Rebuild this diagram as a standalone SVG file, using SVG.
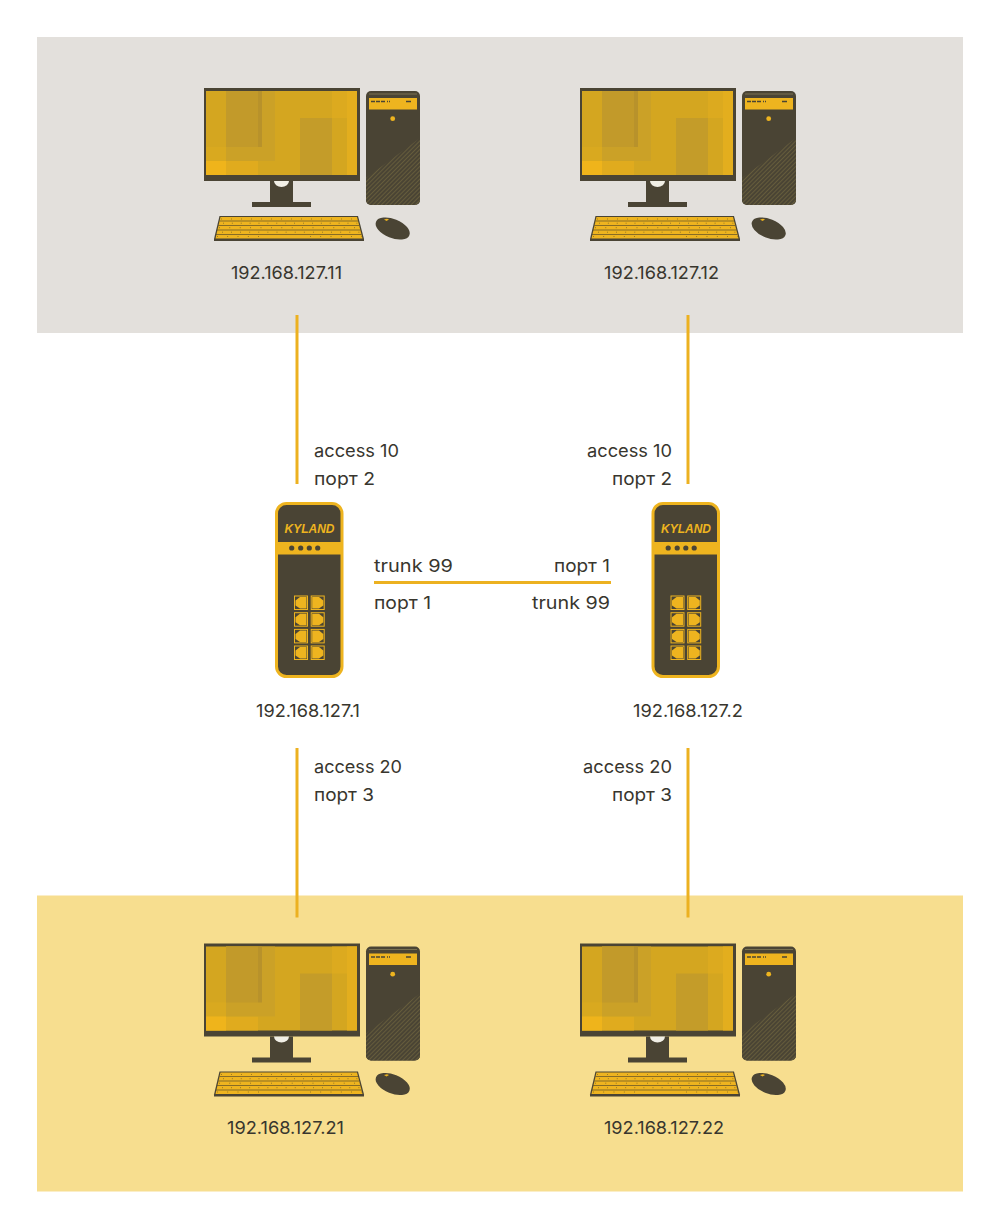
<svg xmlns="http://www.w3.org/2000/svg" width="1000" height="1229" viewBox="0 0 1000 1229">
<style>
.t{font-family:Inter,"Noto Sans","Liberation Sans",sans-serif;font-size:17.5px;fill:#38362e}
.link{stroke:#ecb120;stroke-width:3;fill:none}
.d{fill:#4a4434}
.y{fill:#eeb41f}
.key{stroke:#5a4e2a;stroke-width:.7;fill:none}
</style>
<defs>
<pattern id="hatch" width="3" height="3" patternUnits="userSpaceOnUse" patternTransform="rotate(-45)">
<rect width="3" height="3" fill="#4a4434"/><rect width="3" height="1" fill="#655c3c"/>
</pattern>
<g id="pc">
<rect class="d" x="204" y="88" width="156" height="93"/>
<rect x="206" y="91" width="151" height="84" fill="#d4a620"/>
<rect x="206" y="147" width="52" height="14" fill="#d9a91f"/>
<rect x="206" y="161" width="52" height="14" fill="#e0ab1e"/>
<rect x="206" y="161" width="20" height="14" fill="#efb41b"/>
<rect x="332" y="91" width="25" height="27" fill="#dcaa1f"/>
<rect x="347" y="91" width="10" height="84" fill="#e3ae1e"/>
<rect x="226" y="91" width="49" height="70" fill="#cba127"/>
<rect x="226" y="91" width="32" height="56" fill="#c29a2a"/>
<rect x="258" y="91" width="4" height="56" fill="#b8922b"/>
<rect x="300" y="118" width="32" height="57" fill="#c49c29"/>
<rect x="270" y="181" width="23" height="22" class="d"/>
<path d="M274 181h15a7.500 6 0 0 1-15 0z" fill="#f1efe6"/>
<rect x="252" y="202" width="59" height="5" class="d"/>
<rect x="366" y="91" width="54" height="114" rx="5" class="d"/>
<path d="M366 178L420 138V200a5 5 0 0 1-5 5H371a5 5 0 0 1-5-5z" fill="url(#hatch)"/>
<path d="M369 94h48" stroke="#7a7150" stroke-width="1" fill="none"/>
<rect x="369" y="98" width="48" height="11.500" class="y"/>
<path d="M371 101.500h4m1 0h4m1 0h4m2 0h1m1 0h1m16 0h5" stroke="#4a4434" stroke-width="1.500" fill="none"/>
<circle cx="392.700" cy="118.700" r="2.400" class="y"/>
<path d="M219.500 216H358L364 239V241H214V239z" class="d"/>
<path d="M220.500 217H357L362.500 238.500H215.500z" class="y"/>
<path class="key" d="M219.500 221H358M218.300 225.500H359M217 230H360.500M216 234.500H361.500"/>
<path class="key" d="M221 219H357" stroke-dasharray=".8 9.200"/>
<path class="key" d="M223 223.200H358" stroke-dasharray=".8 8.100"/>
<path class="key" d="M219 227.700H360" stroke-dasharray=".8 9.600"/>
<path class="key" d="M222 232.200H361" stroke-dasharray=".8 8.300"/>
<path class="key" d="M217 236.500H262M310 236.500H362" stroke-dasharray=".8 9.500"/>
<ellipse cx="392.700" cy="228.500" rx="18" ry="9.500" transform="rotate(22 392.700 228.500)" class="d"/>
<path d="M384 219.500l3-.8 2 .8-2.500 1.500z" class="y"/>
</g>
<g id="sw">
<rect x="276.500" y="503.500" width="65.500" height="173" rx="10" class="d" stroke="#eeb41f" stroke-width="3"/>
<rect x="276.500" y="542" width="65.500" height="12.500" class="y"/>
<circle cx="291.700" cy="548" r="2.600" class="d"/><circle cx="300.700" cy="548" r="2.600" class="d"/><circle cx="309.300" cy="548" r="2.600" class="d"/><circle cx="317.700" cy="548" r="2.600" class="d"/>
<text x="309.500" y="533" text-anchor="middle" font-family="Liberation Sans,sans-serif" font-size="12.500" font-weight="700" font-style="italic" fill="#eeb41f" textLength="50" lengthAdjust="spacingAndGlyphs">KYLAND</text>
<g id="rows">
<g id="port-row"><rect x="294.500" y="596" width="13" height="13.500" fill="none" stroke="#eeb41f"/><path d="M306.500 597H300L295.500 600.500V605.500L300 608.500H306.500z" class="y"/><rect x="311.200" y="596" width="13" height="13.500" fill="none" stroke="#eeb41f"/><path d="M312.200 597H319L323.300 600.500V605.500L319 608.500H312.200z" class="y"/></g>
<use href="#port-row" y="16.700"/><use href="#port-row" y="33.400"/><use href="#port-row" y="50"/>
</g>
</g>
</defs>

<g id="zones">
<rect id="zone-vlan10" x="37" y="37" width="926" height="296" fill="#e3e0dc"/>
<rect id="zone-vlan20" x="37" y="895.500" width="926" height="296" fill="#f7de8f"/>
</g>

<g id="connectors">
<path class="link" d="M297 315V484"/>
<path class="link" d="M688 315V484"/>
<path class="link" d="M374 582.500H611"/>
<path class="link" d="M297 748V917.500"/>
<path class="link" d="M688 748V917.500"/>
</g>

<g id="pc-11"><use href="#pc"/><text class="t" x="231" y="278.500" textLength="111" lengthAdjust="spacingAndGlyphs">192.168.127.11</text></g>
<g id="pc-12"><use href="#pc" x="376"/><text class="t" x="604" y="278.500" textLength="115" lengthAdjust="spacingAndGlyphs">192.168.127.12</text></g>
<g id="pc-21"><use href="#pc" y="855.500"/><text class="t" x="227" y="1133.500" textLength="117" lengthAdjust="spacingAndGlyphs">192.168.127.21</text></g>
<g id="pc-22"><use href="#pc" x="376" y="855.500"/><text class="t" x="604" y="1133.500" textLength="120" lengthAdjust="spacingAndGlyphs">192.168.127.22</text></g>

<g id="switch-1"><use href="#sw"/><text class="t" x="256" y="716.500" textLength="104" lengthAdjust="spacingAndGlyphs">192.168.127.1</text></g>
<g id="switch-2"><use href="#sw" x="376.500"/><text class="t" x="633" y="716.500" textLength="110" lengthAdjust="spacingAndGlyphs">192.168.127.2</text></g>

<g id="labels">
<text class="t" x="314" y="456.500" textLength="85" lengthAdjust="spacingAndGlyphs">access 10</text>
<text class="t" x="314" y="484.500" textLength="61" lengthAdjust="spacingAndGlyphs">порт 2</text>
<text class="t" x="587" y="456.500" textLength="85" lengthAdjust="spacingAndGlyphs">access 10</text>
<text class="t" x="612" y="484.500" textLength="60" lengthAdjust="spacingAndGlyphs">порт 2</text>
<text class="t" x="374" y="571.500" textLength="79" lengthAdjust="spacingAndGlyphs">trunk 99</text>
<text class="t" x="374" y="608.500" textLength="57" lengthAdjust="spacingAndGlyphs">порт 1</text>
<text class="t" x="554" y="571.500" textLength="56" lengthAdjust="spacingAndGlyphs">порт 1</text>
<text class="t" x="532" y="608.500" textLength="78" lengthAdjust="spacingAndGlyphs">trunk 99</text>
<text class="t" x="314" y="772.500" textLength="88" lengthAdjust="spacingAndGlyphs">access 20</text>
<text class="t" x="314" y="800.500" textLength="60" lengthAdjust="spacingAndGlyphs">порт 3</text>
<text class="t" x="583" y="772.500" textLength="89" lengthAdjust="spacingAndGlyphs">access 20</text>
<text class="t" x="612" y="800.500" textLength="60" lengthAdjust="spacingAndGlyphs">порт 3</text>
</g>
</svg>
